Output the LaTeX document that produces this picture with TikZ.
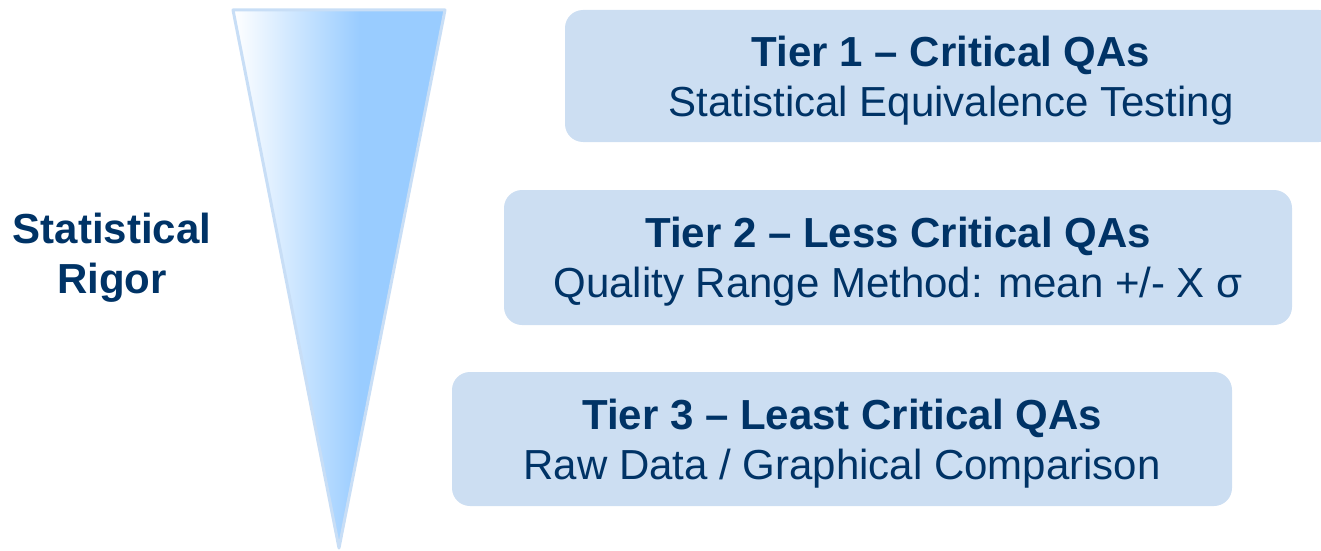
\documentclass[tikz,border=0pt]{standalone}
\usepackage{fontspec}
\setmainfont{Liberation Sans}
\usetikzlibrary{positioning}

\definecolor{navy}{RGB}{0,51,102}
\definecolor{tierfill}{RGB}{204,222,242}
\definecolor{rigorblue}{RGB}{153,204,255}
\definecolor{rigoredge}{RGB}{200,222,246}
\pgfdeclarehorizontalshading{rigorshade}{100bp}{color(0bp)=(white); color(25bp)=(white); color(55bp)=(rigorblue); color(100bp)=(rigorblue)}

\begin{document}
\begin{tikzpicture}[
      x=1pt,y=1pt,
      every node/.style={font=\fontsize{42}{50}\selectfont,text=navy},
      tier/.style={fill=tierfill,rounded corners=18pt,align=center,inner sep=0pt,text depth=0pt},
      head/.style={font=\fontsize{42}{50}\selectfont\bfseries}
    ]
    \useasboundingbox (0,0) rectangle (1321,550);
    \clip (0,0) rectangle (1321,550);
    % funnel of rigor
    \draw[draw=rigoredge,line width=3pt,line join=round,shading=rigorshade]
      (233,540) -- (445,540) -- (339,2) -- cycle;
    % left caption
    \node[head,align=center,text depth=0pt] (rigor) at (112,297) {Statistical\\Rigor};
    % tiers
    \node[tier,minimum width=772pt,minimum height=132pt] (tier1) at (951,474)
      {{\bfseries Tier 1 -- Critical QAs}\\Statistical Equivalence Testing};
    \node[tier,minimum width=788pt,minimum height=135pt] (tier2) at (898,292.5)
      {{\bfseries Tier 2 -- Less Critical QAs}\\Quality Range Method: mean +/- X σ};
    \node[tier,minimum width=780pt,minimum height=134pt] (tier3) at (842,111)
      {{\bfseries Tier 3 -- Least Critical QAs}\\Raw Data / Graphical Comparison};
  \end{tikzpicture}
\end{document}
